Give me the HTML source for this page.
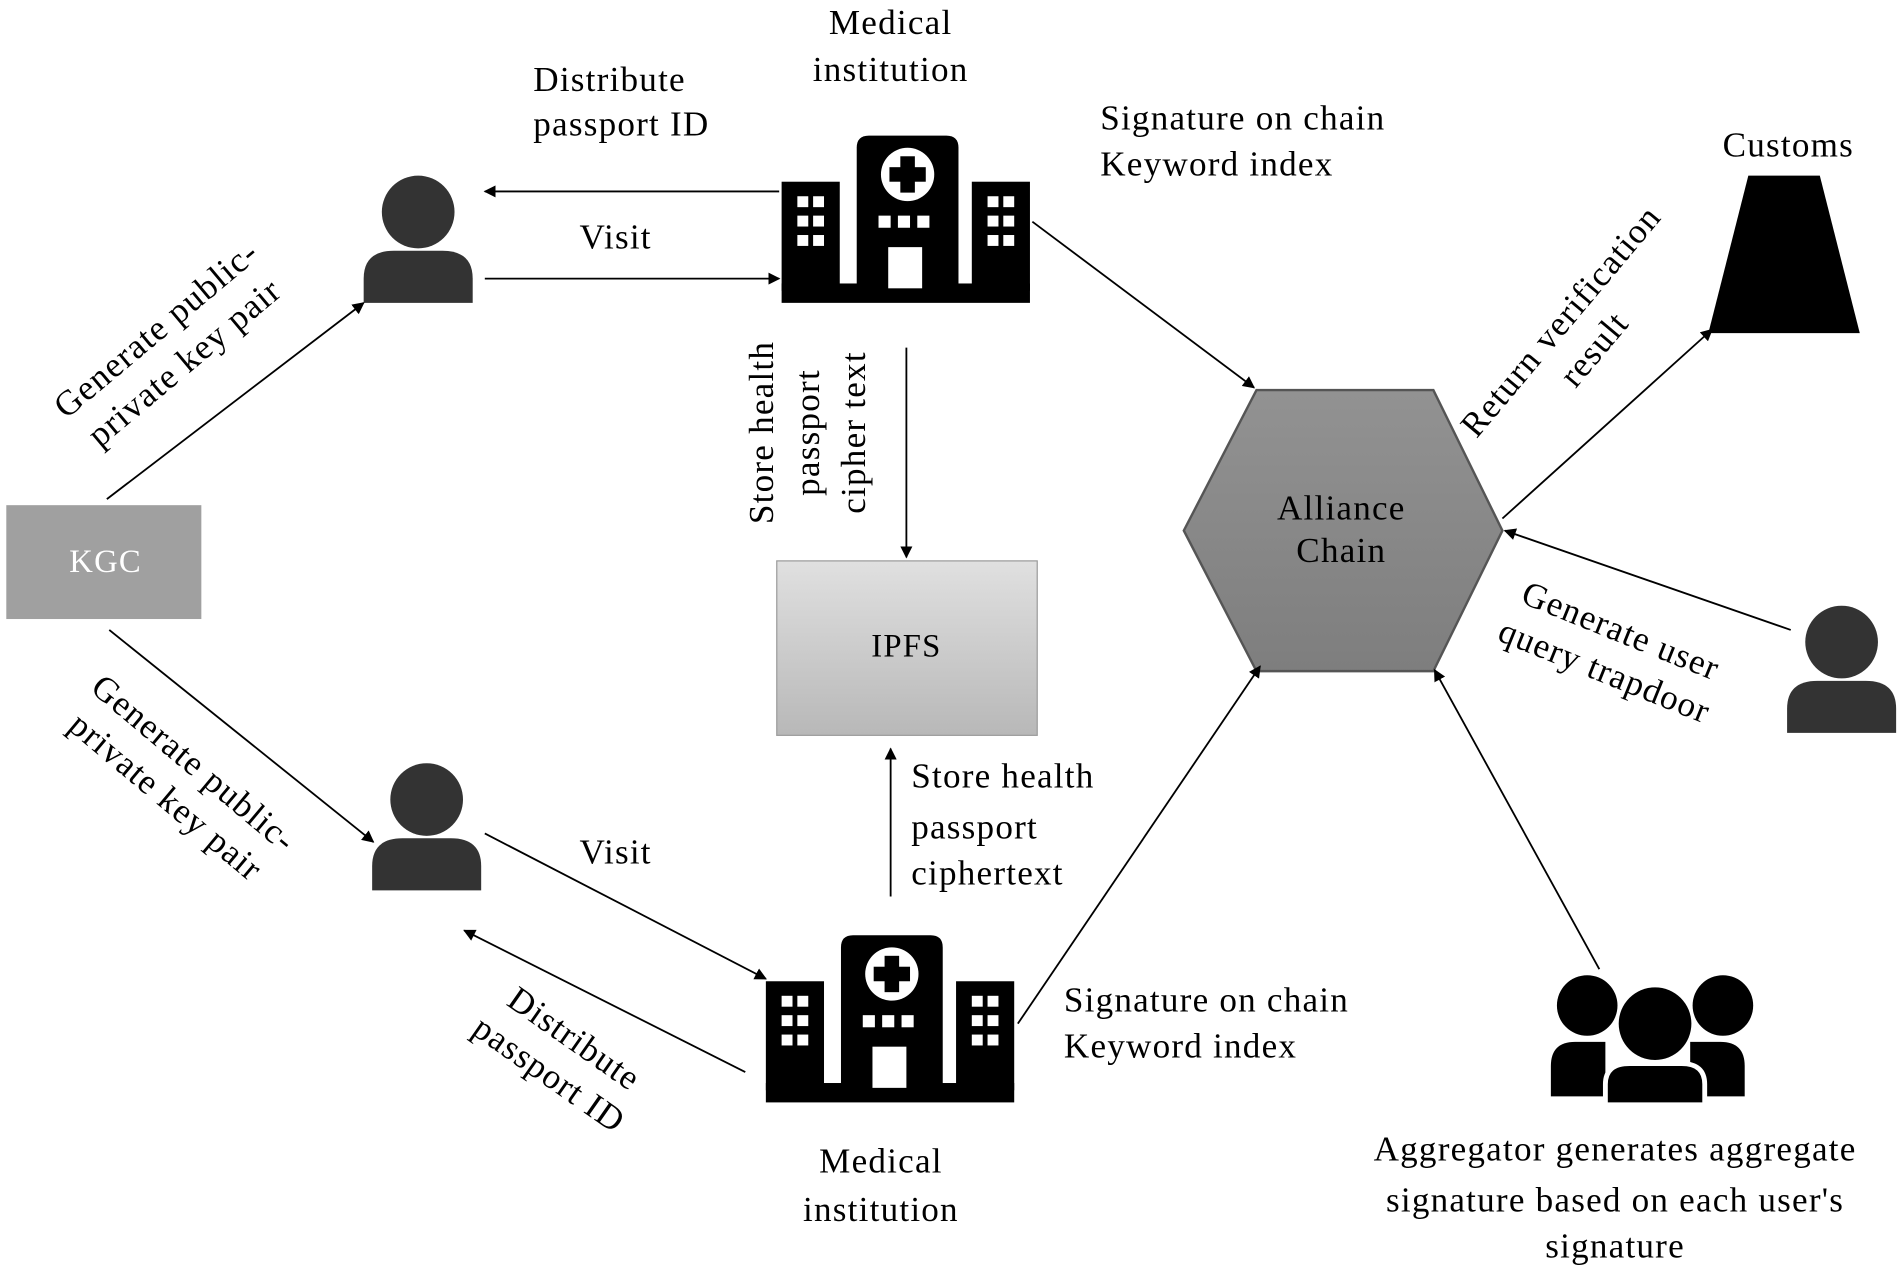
<!DOCTYPE html>
<html><head><meta charset="utf-8"><style>html,body{margin:0;padding:0;background:#fff}svg{display:block}</style></head><body>
<svg width="1900" height="1272" viewBox="0 0 1568 1050" xmlns="http://www.w3.org/2000/svg" font-family="Liberation Serif, serif" font-size="29" letter-spacing="1" fill="#000">
<defs>
<marker id="a" markerWidth="10" markerHeight="10" refX="9" refY="5" orient="auto" markerUnits="userSpaceOnUse" viewBox="0 0 10 10"><path d="M0,0 L10,5 L0,10 z" fill="#000"/></marker>
<linearGradient id="ip" x1="0" y1="0" x2="0" y2="1"><stop offset="0" stop-color="#e0e0e0"/><stop offset="1" stop-color="#b8b8b8"/></linearGradient>
<linearGradient id="hx" x1="0" y1="0" x2="0" y2="1"><stop offset="0" stop-color="#929292"/><stop offset="1" stop-color="#7e7e7e"/></linearGradient>
<g id="bld">
<rect x="0" y="122" width="205" height="16" fill="#000"/>
<rect x="0" y="38" width="48" height="90" fill="#000"/>
<rect x="157" y="38" width="48" height="90" fill="#000"/>
<path d="M62,128 V10 Q62,0 72,0 H136 Q146,0 146,10 V128 Z" fill="#000"/>
<circle cx="104" cy="32" r="22" fill="#fff"/>
<rect x="98" y="17" width="12" height="30" fill="#000"/><rect x="89" y="26" width="30" height="12" fill="#000"/>
<g fill="#fff">
<rect x="13" y="50" width="9" height="9"/><rect x="26" y="50" width="9" height="9"/><rect x="13" y="66" width="9" height="9"/><rect x="26" y="66" width="9" height="9"/><rect x="13" y="82" width="9" height="9"/><rect x="26" y="82" width="9" height="9"/>
<rect x="170" y="50" width="9" height="9"/><rect x="183" y="50" width="9" height="9"/><rect x="170" y="66" width="9" height="9"/><rect x="183" y="66" width="9" height="9"/><rect x="170" y="82" width="9" height="9"/><rect x="183" y="82" width="9" height="9"/>
<rect x="80" y="66" width="10" height="10"/><rect x="96" y="66" width="10" height="10"/><rect x="112" y="66" width="10" height="10"/>
<rect x="88" y="92" width="28" height="34"/>
</g>
</g>
<g id="usr" fill="#333">
<circle cx="0" cy="0" r="30"/>
<path d="M-45,75 V55 Q-45,32 -20,32 H20 Q45,32 45,55 V75 Z"/>
</g>
</defs>

<rect x="5" y="417" width="161" height="94" fill="#a0a0a0"/>
<text x="87" y="472" text-anchor="middle" fill="#fff" font-size="27">KGC</text>

<rect x="641" y="463" width="215" height="144" fill="url(#ip)" stroke="#9a9a9a"/>
<text x="748" y="542" text-anchor="middle" font-size="27">IPFS</text>

<polygon points="1037,322 1183,322 1240,438 1183,554 1037,554 977,438" fill="url(#hx)" stroke="#555" stroke-width="2"/>
<text x="1107" y="429" text-anchor="middle">Alliance</text>
<text x="1107" y="464" text-anchor="middle">Chain</text>

<polygon points="1443,145 1502,145 1535,275 1410,275" fill="#000"/>
<text x="1476" y="129" text-anchor="middle">Customs</text>

<use href="#usr" x="345" y="175"/>
<use href="#usr" x="352" y="660"/>
<use href="#usr" x="1520" y="530"/>
<g fill="#000">
<circle cx="1310" cy="830" r="25"/><path d="M1280,880 Q1280,860 1300,860 H1325 V905 H1280Z"/>
<circle cx="1422" cy="830" r="25"/><path d="M1395,860 H1420 Q1440,860 1440,880 V905 H1395Z"/>
<circle cx="1366" cy="845" r="30"/><path d="M1325,912 V895 Q1325,878 1345,878 H1388 Q1407,878 1407,895 V912 Z" stroke="#fff" stroke-width="4"/>
</g>

<use href="#bld" x="645" y="112"/>
<use href="#bld" x="632" y="772"/>

<g stroke="#000" stroke-width="1.5" fill="none" marker-end="url(#a)">
<line x1="643" y1="158" x2="400" y2="158"/>
<line x1="400" y1="230" x2="643" y2="230"/>
<line x1="748" y1="287" x2="748" y2="460"/>
<line x1="735" y1="740" x2="735" y2="618"/>
<line x1="88" y1="412" x2="300" y2="250"/>
<line x1="90" y1="520" x2="308" y2="695"/>
<line x1="400" y1="688" x2="632" y2="808"/>
<line x1="615" y1="885" x2="383" y2="768"/>
<line x1="852" y1="183" x2="1035" y2="320"/>
<line x1="840" y1="845" x2="1040" y2="550"/>
<line x1="1240" y1="428" x2="1413" y2="272"/>
<line x1="1478" y1="520" x2="1242" y2="438"/>
<line x1="1320" y1="800" x2="1184" y2="553"/>
</g>

<text x="440" y="75">Distribute</text><text x="440" y="112">passport ID</text>
<text x="735" y="28" text-anchor="middle">Medical</text><text x="735" y="67" text-anchor="middle">institution</text>
<text x="508" y="205" text-anchor="middle">Visit</text>
<text x="908" y="107">Signature on chain</text><text x="908" y="145">Keyword index</text>
<g transform="translate(140,285) rotate(-40)"><text x="0" y="-8" text-anchor="middle">Generate public-</text><text x="0" y="28" text-anchor="middle">private key pair</text></g>
<g transform="translate(668,357) rotate(-90)"><text x="0" y="-30" text-anchor="middle">Store health</text><text x="0" y="8" text-anchor="middle">passport</text><text x="0" y="46" text-anchor="middle">cipher text</text></g>
<g transform="translate(1300,275) rotate(-50)"><text x="0" y="-6" text-anchor="middle">Return verification</text><text x="0" y="30" text-anchor="middle">result</text></g>
<g transform="translate(1332,535) rotate(22)"><text x="0" y="-6" text-anchor="middle">Generate user</text><text x="0" y="30" text-anchor="middle">query trapdoor</text></g>
<text x="752" y="650">Store health</text><text x="752" y="692">passport</text><text x="752" y="730">ciphertext</text>
<text x="508" y="713" text-anchor="middle">Visit</text>
<g transform="translate(465,870) rotate(35)"><text x="0" y="-6" text-anchor="middle">Distribute</text><text x="0" y="30" text-anchor="middle">passport ID</text></g>
<g transform="translate(150,642) rotate(40)"><text x="0" y="-6" text-anchor="middle">Generate public-</text><text x="0" y="30" text-anchor="middle">private key pair</text></g>
<text x="878" y="835">Signature on chain</text><text x="878" y="873">Keyword index</text>
<text x="727" y="968" text-anchor="middle">Medical</text><text x="727" y="1008" text-anchor="middle">institution</text>
<text x="1333" y="958" text-anchor="middle">Aggregator generates  aggregate</text>
<text x="1333" y="1000" text-anchor="middle">signature based on each user's</text>
<text x="1333" y="1038" text-anchor="middle">signature</text>
</svg>
</body></html>
